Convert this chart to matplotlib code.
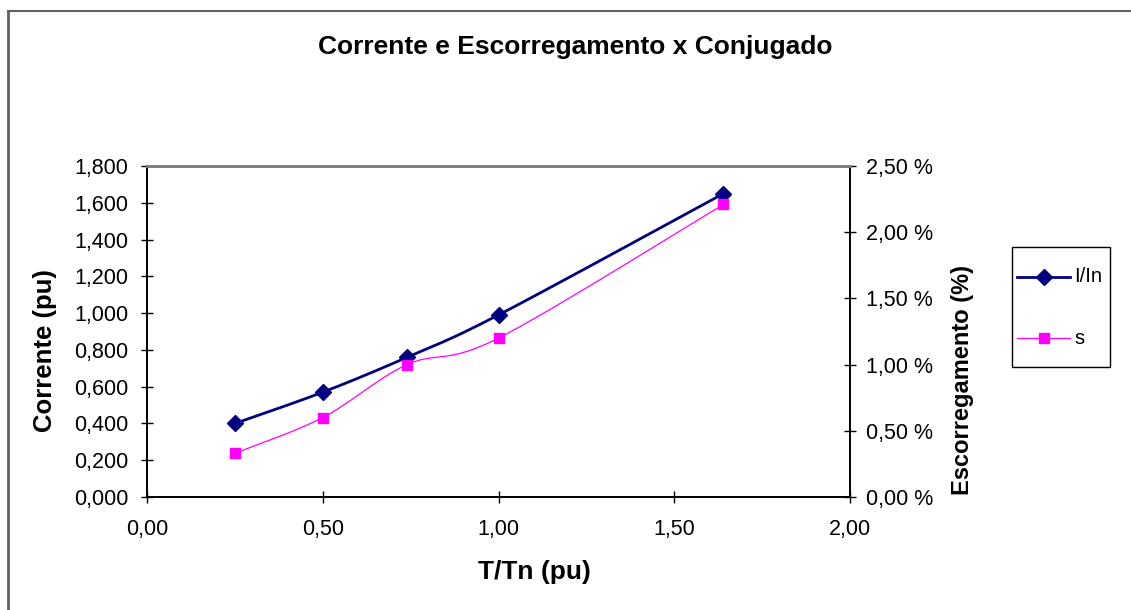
import numpy as np
import matplotlib
matplotlib.use("Agg")
import matplotlib.pyplot as plt
from matplotlib.lines import Line2D
from matplotlib.patches import Rectangle
from matplotlib.ticker import FixedLocator, FuncFormatter

plt.rcParams['font.family'] = ['Liberation Sans', 'DejaVu Sans']

# Data
torque = [0.25, 0.50, 0.74, 1.00, 1.64]          # T/Tn (pu)
current = [0.40, 0.57, 0.76, 0.99, 1.65]         # I/In (pu)
slip = [0.33, 0.60, 1.00, 1.20, 2.21]            # s (%)
series_names = ['I/In', 's']
x_ticks = [0.0, 0.5, 1.0, 1.5, 2.0]
y_ticks = [0.0, 0.2, 0.4, 0.6, 0.8, 1.0, 1.2, 1.4, 1.6, 1.8]
y2_ticks = [0.0, 0.5, 1.0, 1.5, 2.0, 2.5]


def smooth(xs, ys, n=40):
    """Excel-like smoothed line: cubic Bezier segments with Catmull-Rom control points."""
    xs = np.asarray(xs, float)
    ys = np.asarray(ys, float)
    P = np.column_stack([xs, ys])
    out = []
    t = np.linspace(0, 1, n)[:, None]
    for i in range(len(P) - 1):
        p0 = P[i - 1] if i > 0 else P[i]
        p1 = P[i]
        p2 = P[i + 1]
        p3 = P[i + 2] if i + 2 < len(P) else P[i + 1]
        c1 = p1 + (p2 - p0) / 6.0
        c2 = p2 - (p3 - p1) / 6.0
        seg = ((1 - t) ** 3) * p1 + 3 * ((1 - t) ** 2) * t * c1 + 3 * (1 - t) * t ** 2 * c2 + t ** 3 * p2
        out.append(seg if i == 0 else seg[1:])
    res = np.vstack(out)
    return res[:, 0], res[:, 1]


W, H = 1131, 610
fig = plt.figure(figsize=(W / 100, H / 100), dpi=100)


def fx(px):
    return px / W


def fy(py):
    return 1 - py / H


L, R, T, B = 147, 850, 166, 497
ax = fig.add_axes([fx(L), fy(B), (R - L) / W, (B - T) / H])
ax2 = ax.twinx()

navy = '#000080'
mag = '#FF00FF'

sx, sy = smooth(torque, current)
ax.plot(sx, sy, color=navy, lw=2.0, zorder=3)
ax.plot(torque, current, linestyle='none', marker='D', color=navy, ms=8.5, zorder=4)

tx, ty = smooth(torque, slip)
ax2.plot(tx, ty, color=mag, lw=0.9, zorder=3)
ax2.plot(torque, slip, linestyle='none', marker='s', color=mag, ms=7, zorder=4)

ax.set_xlim(0, 2.0)
ax.set_ylim(0, 1.8)
ax2.set_ylim(0, 2.5)
ax.xaxis.set_major_locator(FixedLocator(x_ticks))
ax.yaxis.set_major_locator(FixedLocator(y_ticks))
ax2.yaxis.set_major_locator(FixedLocator(y2_ticks))
ax.xaxis.set_major_formatter(FuncFormatter(lambda v, p: f"{v:.2f}".replace('.', ',')))
ax.yaxis.set_major_formatter(FuncFormatter(lambda v, p: f"{v:.3f}".replace('.', ',')))
ax2.yaxis.set_major_formatter(FuncFormatter(lambda v, p: f"{v:.2f} %".replace('.', ',')))

tick_fs = 15.5
ax.tick_params(axis='both', direction='inout', length=9, width=1, labelsize=tick_fs, color='black')
ax.tick_params(axis='y', pad=9)
ax.tick_params(axis='x', pad=11)
ax2.tick_params(axis='y', direction='inout', length=9, width=1, labelsize=tick_fs, pad=7)

for a in (ax, ax2):
    a.spines['top'].set_color('#808080')
    a.spines['top'].set_linewidth(2)
    for s in ('left', 'right', 'bottom'):
        a.spines[s].set_color('black')
        a.spines[s].set_linewidth(1.2)

# axis titles placed like the original Excel chart
fig.text(fx(534), fy(572), 'T/Tn (pu)', ha='center', va='center', fontsize=19, fontweight='bold')
fig.text(fx(45), fy(351), 'Corrente (pu)', ha='center', va='center', rotation=90,
         fontsize=18.5, fontweight='bold')
fig.text(fx(962), fy(380), 'Escorregamento (%)', ha='center', va='center', rotation=90,
         fontsize=17, fontweight='bold')

fig.text(fx(575), fy(47), 'Corrente e Escorregamento x Conjugado',
         ha='center', va='center', fontsize=19, fontweight='bold')

# legend box (drawn manually to match Excel's layout)
fig.add_artist(Rectangle((fx(1012), fy(367)), (1110 - 1012) / W, (367 - 247) / H,
                         transform=fig.transFigure, facecolor='white', edgecolor='black', lw=1.0))
leg_styles = [dict(color=navy, lw=2.0, marker='D', ms=8), dict(color=mag, lw=0.9, marker='s', ms=7)]
leg_y = [277, 338]
for name, st, yy in zip(series_names, leg_styles, leg_y):
    fig.add_artist(Line2D([fx(1017), fx(1070)], [fy(yy), fy(yy)], transform=fig.transFigure,
                          color=st['color'], lw=st['lw']))
    fig.add_artist(Line2D([fx(1043.5)], [fy(yy)], transform=fig.transFigure, linestyle='none',
                          color=st['color'], marker=st['marker'], ms=st['ms']))
    fig.text(fx(1074), fy(yy), name, ha='left', va='center', fontsize=14.5)

# outer chart border (partially visible)
fig.add_artist(Line2D([fx(7.5), fx(7.5)], [0, fy(10.5)], transform=fig.transFigure,
                      color='#606060', lw=2))
fig.add_artist(Line2D([fx(7.5), 1], [fy(10.5), fy(10.5)], transform=fig.transFigure,
                      color='#606060', lw=1.5))

fig.savefig('out.png', dpi=100, facecolor='white')
